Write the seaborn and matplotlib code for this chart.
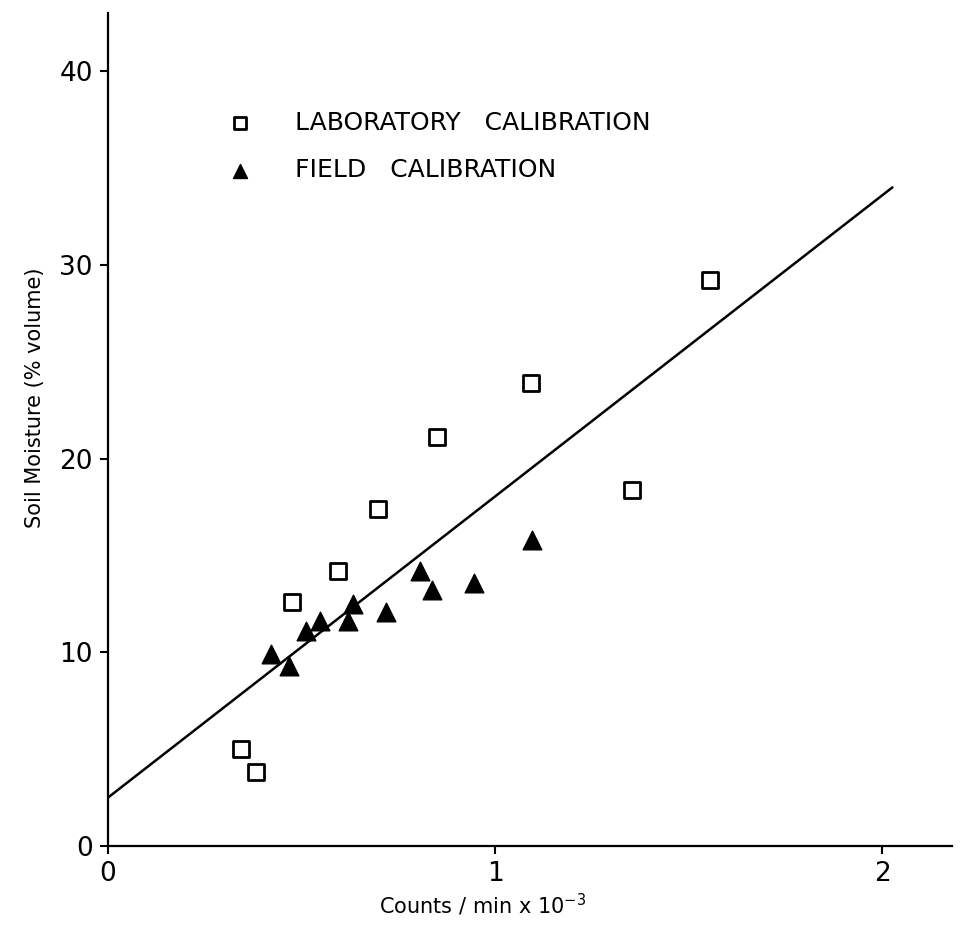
import matplotlib
matplotlib.use("Agg")
import matplotlib.pyplot as plt
import seaborn as sns

# Laboratory calibration points (counts/min x 10^-3, soil moisture % volume)
lab_counts = [0.344, 0.382, 0.475, 0.594, 0.698, 0.850, 1.093, 1.354, 1.556]
lab_moisture = [5.0, 3.8, 12.6, 14.2, 17.4, 21.1, 23.9, 18.4, 29.2]

# Field calibration points
field_counts = [0.421, 0.468, 0.512, 0.548, 0.620, 0.633, 0.718, 0.806, 0.837, 0.946, 1.096]
field_moisture = [9.9, 9.3, 11.1, 11.6, 11.6, 12.5, 12.1, 14.2, 13.2, 13.6, 15.8]

# Calibration line end points
fit_counts = [0.0, 2.026]
fit_moisture = [2.5, 34.0]

x_ticks = [0, 1, 2]
y_ticks = [0, 10, 20, 30, 40]

sns.set_style("ticks")
plt.rcParams["font.family"] = ["DejaVu Sans"]
plt.rcParams["text.color"] = "black"
plt.rcParams["axes.labelcolor"] = "black"

fig = plt.figure(figsize=(9.66, 9.34), dpi=100)
ax = fig.add_axes([0.1118, 0.0942, 0.8737, 0.8918])

sns.lineplot(x=fit_counts, y=fit_moisture, color="black", linewidth=1.8,
             ax=ax, zorder=1)
sns.scatterplot(x=lab_counts, y=lab_moisture, marker="s", s=120,
                facecolor="white", edgecolor="black", linewidth=2.0,
                ax=ax, zorder=3, label="LABORATORY   CALIBRATION")
sns.scatterplot(x=field_counts, y=field_moisture, marker="^", s=180,
                color="black", edgecolor="white", linewidth=3.0,
                ax=ax, zorder=2, label="FIELD   CALIBRATION")

ax.set_xlim(0, 2.18)
ax.set_ylim(0, 43.0)
ax.set_xticks(x_ticks)
ax.set_yticks(y_ticks)
ax.set_xticklabels([str(t) for t in x_ticks])
ax.set_yticklabels([str(t) for t in y_ticks])

for side in ("top", "right"):
    ax.spines[side].set_visible(False)
for side in ("left", "bottom"):
    ax.spines[side].set_linewidth(1.6)
    ax.spines[side].set_color("black")
ax.tick_params(direction="out", length=6, width=1.5, labelsize=19,
               pad=5, colors="black")

ax.set_xlabel("Counts / min x 10$^{-3}$", fontsize=15)
ax.set_ylabel("Soil Moisture (% volume)", fontsize=15)
ax.xaxis.set_label_coords(0.444, -0.055)
ax.yaxis.set_label_coords(-0.075, 0.538)

handles, labels = ax.get_legend_handles_labels()
# Legend triangle drawn solid, without the white halo
handles[1].set_edgecolor("black")
handles[1].set_linewidth(1.0)
leg = ax.legend(handles, labels, loc="upper left",
                bbox_to_anchor=(0.143, 0.883), frameon=False, fontsize=18,
                handlelength=0.9, handletextpad=1.75, labelspacing=0.95,
                borderpad=0, borderaxespad=0, markerscale=0.75)
for t in leg.get_texts():
    t.set_color("black")

fig.savefig("out.png", dpi=100, facecolor="white")
